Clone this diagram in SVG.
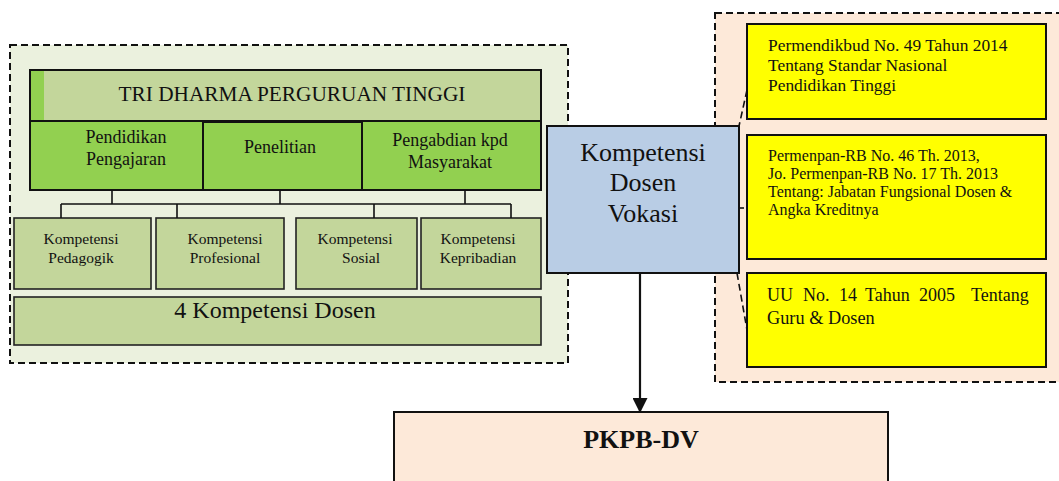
<svg xmlns="http://www.w3.org/2000/svg" width="1059" height="481" viewBox="0 0 1059 481">
  <defs>
    <style>
      text { font-family: "Liberation Serif", "Times New Roman", serif; fill: #111; }
      .frame { stroke: #111; stroke-width: 2; stroke-dasharray: 7 4; }
      .box { stroke: #111; stroke-width: 2; }
      .sub { fill: #C3D69B; stroke: #222; stroke-width: 1.6; }
      .dharma { fill: #92D050; stroke: #111; stroke-width: 2; }
      .law { fill: #FFFF00; stroke: #111; stroke-width: 2; }
      .tree { fill: none; stroke: #111; stroke-width: 1.6; }
      .brace { fill: none; stroke: #111; stroke-width: 1.6; stroke-dasharray: 7 4; }
      .c { text-anchor: middle; }
    </style>
    <marker id="arrow" markerWidth="15" markerHeight="15" refX="14" refY="7.5" orient="auto" markerUnits="userSpaceOnUse">
      <path d="M0,0 L15,7.5 L0,15 Z" fill="#111"/>
    </marker>
  </defs>

  <rect width="1059" height="481" fill="#FFFFFF"/>

  <!-- background frames -->
  <rect id="frame-left" class="frame" x="10" y="45" width="558" height="318" fill="#EBF1DE"/>
  <rect id="frame-right" class="frame" x="715" y="13" width="360" height="369" fill="#FDE9D9"/>

  <!-- Tri Dharma header -->
  <g id="tri-dharma">
    <rect x="30" y="70" width="511" height="51" fill="#92D050"/>
    <rect x="44" y="70" width="497" height="51" fill="#C3D69B"/>
    <rect class="box" x="30" y="70" width="511" height="51" fill="none"/>
    <text class="c" x="292" y="101" font-size="21.3">TRI DHARMA PERGURUAN TINGGI</text>
  </g>

  <g id="pendidikan">
    <rect class="dharma" x="30" y="121" width="173" height="69"/>
    <text class="c" x="126" y="143" font-size="18">Pendidikan</text>
    <text class="c" x="126" y="165" font-size="18">Pengajaran</text>
  </g>
  <g id="penelitian">
    <rect class="dharma" x="203" y="122" width="159" height="68"/>
    <text class="c" x="280" y="153" font-size="18">Penelitian</text>
  </g>
  <g id="pengabdian">
    <rect class="dharma" x="362" y="121" width="179" height="69"/>
    <text class="c" x="450" y="146" font-size="18">Pengabdian kpd</text>
    <text class="c" x="450" y="168" font-size="18">Masyarakat</text>
  </g>

  <!-- competence boxes -->
  <g id="pedagogik">
    <rect class="sub" x="14" y="218" width="137" height="71"/>
    <text class="c" x="81" y="244" font-size="15.5">Kompetensi</text>
    <text class="c" x="81" y="263" font-size="15.5">Pedagogik</text>
  </g>
  <g id="profesional">
    <rect class="sub" x="156" y="218" width="128" height="71"/>
    <text class="c" x="225" y="244" font-size="15.5">Kompetensi</text>
    <text class="c" x="225" y="263" font-size="15.5">Profesional</text>
  </g>
  <g id="sosial">
    <rect class="sub" x="296" y="218" width="121" height="71"/>
    <text class="c" x="355" y="244" font-size="15.5">Kompetensi</text>
    <text class="c" x="361" y="263" font-size="15.5">Sosial</text>
  </g>
  <g id="kepribadian">
    <rect class="sub" x="421" y="218" width="120" height="71"/>
    <text class="c" x="478" y="244" font-size="15.5">Kompetensi</text>
    <text class="c" x="478" y="263" font-size="15.5">Kepribadian</text>
  </g>
  <g id="empat-kompetensi">
    <rect class="sub" x="14" y="297" width="527" height="48"/>
    <text class="c" x="275" y="318" font-size="24">4 Kompetensi Dosen</text>
  </g>

  <!-- central node -->
  <g id="kompetensi-vokasi">
    <rect class="box" x="547" y="126" width="192" height="147" fill="#B9CDE5"/>
    <text class="c" x="643" y="161" font-size="26">Kompetensi</text>
    <text class="c" x="643" y="191" font-size="26">Dosen</text>
    <text class="c" x="643" y="222" font-size="26">Vokasi</text>
  </g>

  <!-- regulation boxes -->
  <g id="permendikbud">
    <rect class="law" x="747" y="24" width="299" height="95"/>
    <text x="768" y="51" font-size="17.4">Permendikbud No. 49 Tahun 2014</text>
    <text x="768" y="71" font-size="17.4">Tentang Standar Nasional</text>
    <text x="768" y="91" font-size="17.4">Pendidikan Tinggi</text>
  </g>
  <g id="permenpan">
    <rect class="law" x="747" y="135" width="299" height="124"/>
    <text x="768" y="161" font-size="16">Permenpan-RB No. 46 Th. 2013,</text>
    <text x="768" y="179" font-size="16">Jo. Permenpan-RB No. 17 Th. 2013</text>
    <text x="768" y="197" font-size="16">Tentang: Jabatan Fungsional Dosen &amp;</text>
    <text x="768" y="215" font-size="16">Angka Kreditnya</text>
  </g>
  <g id="uu-guru-dosen">
    <rect class="law" x="747" y="273" width="299" height="94"/>
    <text y="301" font-size="18"><tspan x="767">UU</tspan><tspan x="803">No.</tspan><tspan x="839">14</tspan><tspan x="865">Tahun</tspan><tspan x="919">2005</tspan><tspan x="971">Tentang</tspan></text>
    <text x="767" y="324" font-size="18.3">Guru &amp; Dosen</text>
  </g>

  <g id="pkpb-dv">
    <rect class="box" x="394" y="412" width="494" height="80" fill="#FDE9D9"/>
    <text class="c" x="641" y="448" font-size="26" font-weight="bold">PKPB-DV</text>
  </g>

  <!-- connectors -->
  <g id="connectors">
    <path class="tree" d="M112,190 V204 M280,190 V204 M465,190 V204 M61,204 H511 M61,204 V218 M177,204 V218 M374,204 V218 M511,204 V218"/>
    <path class="brace" d="M747,90 L739,126"/>
    <path class="brace" d="M739,208 H744"/>
    <path class="brace" d="M737,273 L747,330"/>
    <line x1="640" y1="273" x2="640" y2="412" stroke="#111" stroke-width="2.2" marker-end="url(#arrow)"/>
  </g>
</svg>
